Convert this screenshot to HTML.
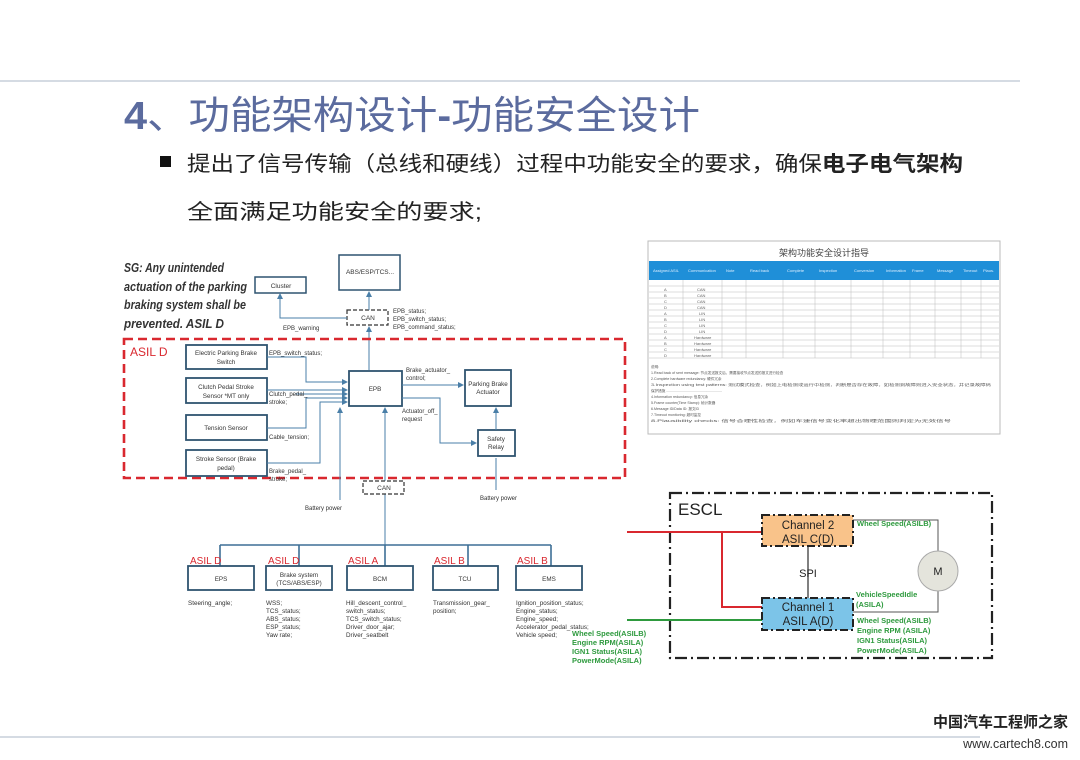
<!DOCTYPE html>
<html><head><meta charset="utf-8"><style>
html,body{margin:0;padding:0;background:#fff;}
svg{display:block;}
text{font-family:"Liberation Sans","Noto Sans CJK SC",sans-serif;}
</style></head><body>
<svg width="1080" height="760" viewBox="0 0 1080 760" xmlns="http://www.w3.org/2000/svg">
<defs>
<marker id="a" markerWidth="6" markerHeight="6" refX="5" refY="3" orient="auto"><path d="M0,0 L6,3 L0,6 z" fill="#4a7fa8"/></marker>
</defs>
<rect width="1080" height="760" fill="#fff"/>
<line x1="0" y1="81" x2="1020" y2="81" stroke="#d5dbe3" stroke-width="2"/>
<line x1="0" y1="737" x2="980" y2="737" stroke="#d5dbe3" stroke-width="2"/>
<text x="124" y="129" font-size="39" fill="#5b6b9e" textLength="576" lengthAdjust="spacingAndGlyphs"><tspan font-weight="bold">4</tspan>、功能架构设计<tspan font-weight="bold">-</tspan>功能安全设计</text>
<rect x="160" y="156" width="11" height="11" fill="#111"/>
<text x="187" y="171" font-size="21" fill="#222" textLength="776" lengthAdjust="spacingAndGlyphs" font-family="'Noto Serif CJK SC',serif">提出了信号传输（总线和硬线）过程中功能安全的要求，确保<tspan font-family="'Noto Sans CJK SC',sans-serif" font-weight="bold">电子电气架构</tspan></text>
<text x="187" y="219" font-size="21" fill="#222" textLength="295" lengthAdjust="spacingAndGlyphs" font-family="'Noto Sans CJK SC',sans-serif">全面满足功能安全的要求;</text>

<g font-size="13" font-weight="bold" font-style="italic" fill="#333" lengthAdjust="spacingAndGlyphs">
<text x="124" y="272" textLength="100" lengthAdjust="spacingAndGlyphs">SG: Any unintended</text>
<text x="124" y="291" textLength="123" lengthAdjust="spacingAndGlyphs">actuation of the parking</text>
<text x="124" y="309" textLength="122" lengthAdjust="spacingAndGlyphs">braking system shall be</text>
<text x="124" y="328" textLength="100" lengthAdjust="spacingAndGlyphs">prevented. ASIL D</text>
</g>
<g fill="#fff" stroke="#2f5470" stroke-width="1.5">
<rect x="255" y="277" width="51" height="16"/>
<rect x="339" y="255" width="61" height="35"/>
</g>
<g font-size="6.5" fill="#333" text-anchor="middle">
<text x="281" y="288">Cluster</text>
<text x="370" y="274">ABS/ESP/TCS...</text>
</g>
<rect x="347" y="310" width="41" height="15" fill="none" stroke="#333" stroke-dasharray="4,2" stroke-width="1.2"/>
<text x="368" y="320" font-size="6.5" fill="#333" text-anchor="middle">CAN</text>
<g stroke="#4a7fa8" stroke-width="1" fill="none">
<polyline points="347,318 280,318 280,294" marker-end="url(#a)"/>
<line x1="369" y1="310" x2="369" y2="292" marker-end="url(#a)"/>
<line x1="369" y1="370" x2="369" y2="327" marker-end="url(#a)"/>
</g>
<g font-size="6" fill="#333">
<text x="393" y="313">EPB_status;</text>
<text x="393" y="321">EPB_switch_status;</text>
<text x="393" y="329">EPB_command_status;</text>
<text x="283" y="330">EPB_warning</text>
</g>
<rect x="124" y="339" width="501" height="139" fill="none" stroke="#d9282f" stroke-width="2.6" stroke-dasharray="9,5"/>
<text x="130" y="356" font-size="12" fill="#d9282f">ASIL D</text>
<g fill="#fff" stroke="#2f5470" stroke-width="1.8">
<rect x="186" y="345" width="81" height="24"/>
<rect x="186" y="378" width="81" height="25"/>
<rect x="186" y="415" width="81" height="25"/>
<rect x="186" y="450" width="81" height="26"/>
<rect x="349" y="371" width="53" height="35"/>
<rect x="465" y="370" width="46" height="36"/>
<rect x="478" y="430" width="37" height="26"/>
</g>
<g font-size="6.3" fill="#333" text-anchor="middle">
<text x="226" y="355">Electric Parking Brake</text><text x="226" y="364">Switch</text>
<text x="226" y="389">Clutch Pedal Stroke</text><text x="226" y="398">Sensor *MT only</text>
<text x="226" y="430">Tension Sensor</text>
<text x="226" y="461">Stroke Sensor (Brake</text><text x="226" y="470">pedal)</text>
<text x="375" y="391">EPB</text>
<text x="488" y="386">Parking Brake</text><text x="488" y="394">Actuator</text>
<text x="496" y="441">Safety</text><text x="496" y="449">Relay</text>
</g>
<g stroke="#4a7fa8" stroke-width="1" fill="none">
<polyline points="267,357 306,357 306,382 347,382" marker-end="url(#a)"/>
<line x1="267" y1="390" x2="347" y2="390" marker-end="url(#a)"/>
<line x1="295" y1="394" x2="347" y2="394" marker-end="url(#a)"/>
<polyline points="267,428 306,428 306,398 347,398" marker-end="url(#a)"/>
<polyline points="267,463 320,463 320,402 347,402" marker-end="url(#a)"/>
<line x1="402" y1="385" x2="463" y2="385" marker-end="url(#a)"/>
<polyline points="402,398 440,398 440,443 476,443" marker-end="url(#a)"/>
<line x1="496" y1="430" x2="496" y2="408" marker-end="url(#a)"/>
<line x1="496" y1="490" x2="496" y2="458"/>
<line x1="340" y1="500" x2="340" y2="408" marker-end="url(#a)"/>
<line x1="385" y1="545" x2="385" y2="408" marker-end="url(#a)"/>
</g>
<g font-size="6" fill="#333">
<text x="269" y="355">EPB_switch_status;</text>
<text x="269" y="396">Clutch_pedal_</text><text x="269" y="404">stroke;</text>
<text x="269" y="439">Cable_tension;</text>
<text x="269" y="473">Brake_pedal_</text><text x="269" y="481">stroke;</text>
<text x="406" y="372">Brake_actuator_</text><text x="406" y="380">control;</text>
<text x="402" y="413">Actuator_off_</text><text x="402" y="421">request</text>
<text x="480" y="500">Battery power</text>
<text x="305" y="510">Battery power</text>
</g>
<rect x="363" y="481" width="41" height="13" fill="#fff" stroke="#333" stroke-dasharray="4,2" stroke-width="1.2"/>
<text x="384" y="490" font-size="6.5" fill="#333" text-anchor="middle">CAN</text>
<g stroke="#3d6f96" stroke-width="1.6" fill="none">
<line x1="220" y1="545" x2="551" y2="545"/>
<line x1="220" y1="545" x2="220" y2="566"/>
<line x1="299" y1="545" x2="299" y2="566"/>
<line x1="385" y1="545" x2="385" y2="566"/>
<line x1="468" y1="545" x2="468" y2="566"/>
<line x1="551" y1="545" x2="551" y2="566"/>
</g>
<g fill="#fff" stroke="#2f5470" stroke-width="1.8">
<rect x="188" y="566" width="66" height="24"/>
<rect x="266" y="566" width="66" height="24"/>
<rect x="347" y="566" width="66" height="24"/>
<rect x="433" y="566" width="65" height="24"/>
<rect x="516" y="566" width="66" height="24"/>
</g>
<g font-size="10" fill="#d9282f">
<text x="190" y="564">ASIL D</text><text x="268" y="564">ASIL D</text><text x="348" y="564">ASIL A</text><text x="434" y="564">ASIL B</text><text x="517" y="564">ASIL B</text>
</g>
<g font-size="6.3" fill="#333" text-anchor="middle">
<text x="221" y="581">EPS</text>
<text x="299" y="577">Brake system</text><text x="299" y="585">(TCS/ABS/ESP)</text>
<text x="380" y="581">BCM</text><text x="465" y="581">TCU</text><text x="549" y="581">EMS</text>
</g>
<g font-size="6.3" fill="#333">
<text x="188" y="605">Steering_angle;</text>
<text x="266" y="605">WSS;</text><text x="266" y="613">TCS_status;</text><text x="266" y="621">ABS_status;</text><text x="266" y="629">ESP_status;</text><text x="266" y="637">Yaw rate;</text>
<text x="346" y="605">Hill_descent_control_</text><text x="346" y="613">switch_status;</text><text x="346" y="621">TCS_switch_status;</text><text x="346" y="629">Driver_door_ajar;</text><text x="346" y="637">Driver_seatbelt</text>
<text x="433" y="605">Transmission_gear_</text><text x="433" y="613">position;</text>
<text x="516" y="605">Ignition_position_status;</text><text x="516" y="613">Engine_status;</text><text x="516" y="621">Engine_speed;</text><text x="516" y="629">Accelerator_pedal_status;</text><text x="516" y="637">Vehicle speed;</text>
</g>
<g font-size="7.5" fill="#2e9a3e" font-family="'Liberation Serif',serif" font-weight="bold">
<text x="572" y="636">Wheel Speed(ASILB)</text><text x="572" y="645">Engine RPM(ASILA)</text><text x="572" y="654">IGN1 Status(ASILA)</text><text x="572" y="663">PowerMode(ASILA)</text>
</g>

<rect x="670" y="493" width="322" height="165" fill="none" stroke="#222" stroke-width="2.2" stroke-dasharray="12,4,2,4"/>
<text x="678" y="515" font-size="17" fill="#222">ESCL</text>
<g stroke="#d9282f" stroke-width="2" fill="none">
<line x1="627" y1="532" x2="762" y2="532"/>
<polyline points="722,532 722,607 762,607"/>
</g>
<line x1="627" y1="620" x2="762" y2="620" stroke="#2e9a3e" stroke-width="2"/>
<line x1="808" y1="546" x2="808" y2="598" stroke="#555" stroke-width="1.5"/>
<polyline points="853,520 938,520 938,551" fill="none" stroke="#555" stroke-width="1"/>
<polyline points="853,612 938,612 938,591" fill="none" stroke="#555" stroke-width="1"/>
<rect x="762" y="515" width="91" height="31" fill="#f9c38a" stroke="#222" stroke-width="2" stroke-dasharray="8,3,2,3"/>
<rect x="762" y="598" width="91" height="32" fill="#7cc4e8" stroke="#222" stroke-width="2" stroke-dasharray="8,3,2,3"/>
<g font-size="11.5" fill="#222" text-anchor="middle">
<text x="808" y="529">Channel 2</text><text x="808" y="543">ASIL C(D)</text>
<text x="808" y="611">Channel 1</text><text x="808" y="625">ASIL A(D)</text>
<text x="808" y="577" font-size="11">SPI</text>
</g>
<circle cx="938" cy="571" r="20" fill="#e4e4dc" stroke="#aaa" stroke-width="1"/>
<text x="938" y="575" font-size="11" fill="#222" text-anchor="middle">M</text>
<g font-size="7.5" fill="#2e9a3e" font-family="'Liberation Serif',serif" font-weight="bold">
<text x="857" y="526">Wheel Speed(ASILB)</text>
<text x="856" y="597">VehicleSpeedIdle</text><text x="856" y="607">(ASILA)</text>
<text x="857" y="623">Wheel Speed(ASILB)</text><text x="857" y="633">Engine RPM (ASILA)</text><text x="857" y="643">IGN1 Status(ASILA)</text><text x="857" y="653">PowerMode(ASILA)</text>
</g>

<rect x="648" y="241" width="352" height="193" fill="#fff" stroke="#bbb" stroke-width="1"/>
<text x="824" y="256" font-size="9" fill="#444" text-anchor="middle">架构功能安全设计指导</text>
<rect x="649" y="261" width="350" height="19" fill="#1f8fd8"/>
<g stroke="#bbb" stroke-width="0.5">
<line x1="649" y1="286" x2="999" y2="286"/><line x1="649" y1="292" x2="999" y2="292"/><line x1="649" y1="298" x2="999" y2="298"/><line x1="649" y1="304" x2="999" y2="304"/><line x1="649" y1="310" x2="999" y2="310"/><line x1="649" y1="316" x2="999" y2="316"/><line x1="649" y1="322" x2="999" y2="322"/><line x1="649" y1="328" x2="999" y2="328"/><line x1="649" y1="334" x2="999" y2="334"/><line x1="649" y1="340" x2="999" y2="340"/><line x1="649" y1="346" x2="999" y2="346"/><line x1="649" y1="352" x2="999" y2="352"/><line x1="649" y1="358" x2="999" y2="358"/>
<line x1="683" y1="280" x2="683" y2="358"/><line x1="722" y1="280" x2="722" y2="358"/><line x1="746" y1="280" x2="746" y2="358"/><line x1="783" y1="280" x2="783" y2="358"/><line x1="815" y1="280" x2="815" y2="358"/><line x1="851" y1="280" x2="851" y2="358"/><line x1="883" y1="280" x2="883" y2="358"/><line x1="910" y1="280" x2="910" y2="358"/><line x1="935" y1="280" x2="935" y2="358"/><line x1="961" y1="280" x2="961" y2="358"/><line x1="981" y1="280" x2="981" y2="358"/>
</g>
<g font-size="4" fill="#dfefff">
<text x="653" y="272">Assigned ASIL</text><text x="688" y="272">Communication</text><text x="726" y="272">Note</text><text x="750" y="272">Read back</text><text x="787" y="272">Complete</text><text x="819" y="272">Inspection</text><text x="854" y="272">Conversion</text><text x="886" y="272">Information</text><text x="912" y="272">Frame</text><text x="937" y="272">Message</text><text x="963" y="272">Timeout</text><text x="983" y="272">Plaus.</text>
</g>
<g font-size="4" fill="#666">
<text x="664" y="291">A</text><text x="697" y="291">CAN</text><text x="664" y="297">B</text><text x="697" y="297">CAN</text><text x="664" y="303">C</text><text x="697" y="303">CAN</text><text x="664" y="309">D</text><text x="697" y="309">CAN</text>
<text x="664" y="315">A</text><text x="699" y="315">LIN</text><text x="664" y="321">B</text><text x="699" y="321">LIN</text><text x="664" y="327">C</text><text x="699" y="327">LIN</text><text x="664" y="333">D</text><text x="699" y="333">LIN</text>
<text x="664" y="339">A</text><text x="694" y="339">Hardware</text><text x="664" y="345">B</text><text x="694" y="345">Hardware</text><text x="664" y="351">C</text><text x="694" y="351">Hardware</text><text x="664" y="357">D</text><text x="694" y="357">Hardware</text>
</g>
<g font-size="3.6" fill="#555">
<text x="651" y="368">说明:</text>
<text x="651" y="374">1.Read back of sent message: 节点发送报文后，需要接收节点发送的报文进行检查</text>
<text x="651" y="380">2.Complete hardware redundancy: 硬件冗余</text>
<text x="651" y="386" textLength="340" lengthAdjust="spacingAndGlyphs">3.Inspection using test patterns: 测试模式检查，例如上电检测或运行中检测，判断是否存在故障，如检测到故障则进入安全状态，并记录故障码</text>
<text x="651" y="392">保护措施 ........................................................</text>
<text x="651" y="398">4.Information redundancy: 信息冗余</text>
<text x="651" y="404">5.Frame counter(Time Stamp): 帧计数器</text>
<text x="651" y="410">6.Message ID/Data ID: 报文ID</text>
<text x="651" y="416">7.Timeout monitoring: 超时监控</text>
<text x="651" y="422" textLength="300" lengthAdjust="spacingAndGlyphs">8.Plausibility checks: 信号合理性检查，例如车速信号变化率超出物理范围则判定为无效信号</text>
</g>

<text x="1068" y="727" font-size="15" font-weight="bold" fill="#222" text-anchor="end" font-family="'Noto Serif CJK SC',serif">中国汽车工程师之家</text>
<text x="1068" y="748" font-size="12.5" fill="#333" text-anchor="end" font-family="'Liberation Mono',monospace">www.cartech8.com</text>
</svg>
</body></html>
